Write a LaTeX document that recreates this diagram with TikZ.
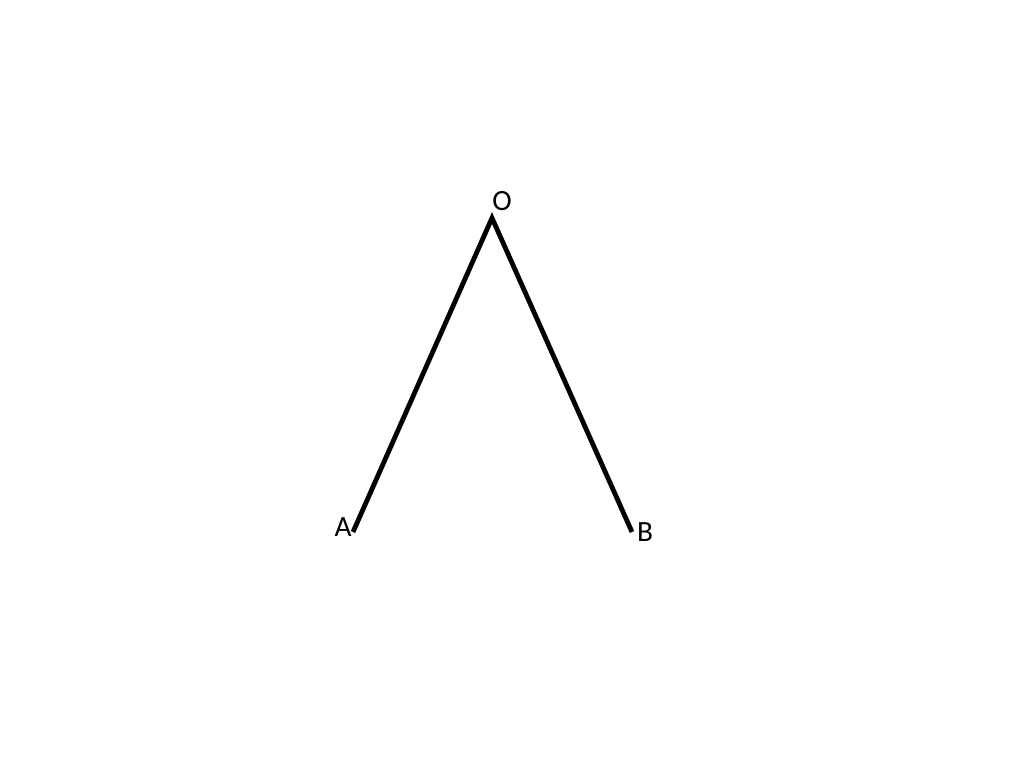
\documentclass[tikz,border=0pt]{standalone}
\usepackage{fontspec}
\setmainfont{Carlito}
\usepackage{tikz}

\begin{document}
\begin{tikzpicture}[x=0.75pt, y=-0.75pt, every node/.style={font=\fontsize{22}{24}\selectfont, inner sep=0pt}]
\useasboundingbox (0, 0) rectangle (1024, 773);
\coordinate (O) at (492, 218) ; % apex
\coordinate (A) at (353, 532) ; % left end
\coordinate (B) at (632, 532) ; % right end
\draw[line width=3.6pt, line join=miter] (A) -- (O) -- (B) ;
\node (labelO) at (502, 201) {O}; % apex label
\node (labelA) at (343, 527) {A}; % left label
\node (labelB) at (645, 532) {B}; % right label
\end{tikzpicture}
\end{document}
